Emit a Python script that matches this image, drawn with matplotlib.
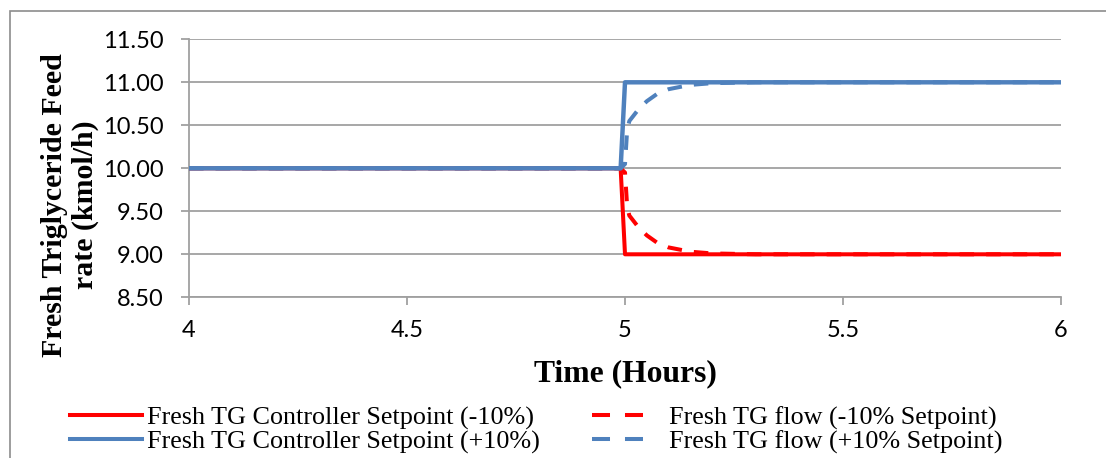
import matplotlib
matplotlib.use("Agg")
import matplotlib.pyplot as plt
from matplotlib.patches import Rectangle
from matplotlib.lines import Line2D

# ---- data ----
t_setpoint = [4.0, 4.99, 5.0, 6.0]
sp_minus = [10.0, 10.0, 9.0, 9.0]
sp_plus = [10.0, 10.0, 11.0, 11.0]

t_flow = [4.0, 4.99, 5.0, 5.005, 5.01, 5.03, 5.05, 5.075, 5.1, 5.15, 5.2, 5.3, 6.0]
flow_plus = [10.0, 10.0, 10.05, 10.45, 10.55, 10.68, 10.78, 10.87, 10.92, 10.97, 10.99, 11.0, 11.0]
flow_minus = [10.0, 10.0, 9.95, 9.55, 9.45, 9.32, 9.22, 9.13, 9.08, 9.03, 9.01, 9.0, 9.0]

x_ticks = [4, 4.5, 5, 5.5, 6]
x_ticklabels = ["4", "4.5", "5", "5.5", "6"]
y_ticks = [8.5, 9.0, 9.5, 10.0, 10.5, 11.0, 11.5]
y_ticklabels = ["8.50", "9.00", "9.50", "10.00", "10.50", "11.00", "11.50"]

labels = ["Fresh TG Controller Setpoint (-10%)",
          "Fresh TG Controller Setpoint (+10%)",
          "Fresh TG flow (-10% Setpoint)",
          "Fresh TG flow (+10% Setpoint)"]

RED = "#FF0000"
BLUE = "#4F81BD"
GRID = "#A0A0A0"

W, H = 1106, 458
fig = plt.figure(figsize=(W / 100, H / 100), dpi=100)

# outer chart frame
fig.patches.append(Rectangle((10 / W, -0.5), 2.0, 1.5 - 11 / H, transform=fig.transFigure,
                             fill=False, edgecolor="#8C8C8C", linewidth=1.2))

ax = fig.add_axes([189 / W, 1 - 297.3 / H, (1061 - 189) / W, (297.3 - 39.3) / H])

lw = 2.9
dash = (0, (3.6, 3.0))
ax.plot(t_setpoint, sp_minus, color=RED, lw=lw, solid_joinstyle="round", zorder=3)
ax.plot(t_flow, flow_minus, color=RED, lw=lw, linestyle=dash, dash_capstyle="butt", zorder=3)
ax.plot(t_setpoint, sp_plus, color=BLUE, lw=lw + 0.3, solid_joinstyle="round", zorder=4)
ax.plot(t_flow, flow_plus, color=BLUE, lw=lw, linestyle=dash, dash_capstyle="butt", zorder=4)

ax.set_xlim(4, 6)
ax.set_ylim(8.5, 11.5)
ax.set_xticks(x_ticks)
ax.set_xticklabels(x_ticklabels)
ax.set_yticks(y_ticks)
ax.set_yticklabels(y_ticklabels)

ax.grid(axis="y", color=GRID, lw=1.3, zorder=0)
ax.set_axisbelow(True)
for s in ["top", "right"]:
    ax.spines[s].set_visible(False)
for s in ["left", "bottom"]:
    ax.spines[s].set_color(GRID)
    ax.spines[s].set_linewidth(1.3)

ax.tick_params(axis="both", direction="out", length=6, width=1.3, color=GRID,
               labelsize=17, labelcolor="black")
ax.tick_params(axis="y", pad=12)
ax.tick_params(axis="x", pad=10)
for lab in ax.get_xticklabels() + ax.get_yticklabels():
    lab.set_fontfamily("Lato")

serif = "Liberation Serif"
fig.text(625 / W, 1 - 374 / H, "Time (Hours)", fontfamily=serif, fontweight="bold",
         fontsize=22.8, ha="center", va="center")
fig.text(55 / W, 1 - 205 / H, "Fresh Triglyceride Feed", fontfamily=serif, fontweight="bold",
         fontsize=21.5, ha="center", va="center", rotation=90)
fig.text(85 / W, 1 - 205 / H, "rate (kmol/h)", fontfamily=serif, fontweight="bold",
         fontsize=21.5, ha="center", va="center", rotation=90)

# legend handles (dashed handles show two dashes like the reference)
leg_dash = (0, (4.47, 3.72, 4.47, 20))
h1 = Line2D([], [], color=RED, lw=lw)
h2 = Line2D([], [], color=BLUE, lw=lw)
h3 = Line2D([], [], color=RED, lw=lw, linestyle=leg_dash)
h4 = Line2D([], [], color=BLUE, lw=lw, linestyle=leg_dash)

leg = fig.legend([h1, h2, h3, h4], labels, ncol=2, loc="center left",
                 bbox_to_anchor=(70 / W, 1 - 430 / H), frameon=False,
                 prop={"family": serif, "size": 18.8},
                 handlelength=2.75, handletextpad=0.2, columnspacing=2.0,
                 labelspacing=0.0, borderaxespad=0, borderpad=0)

fig.savefig("out.png", dpi=100)
